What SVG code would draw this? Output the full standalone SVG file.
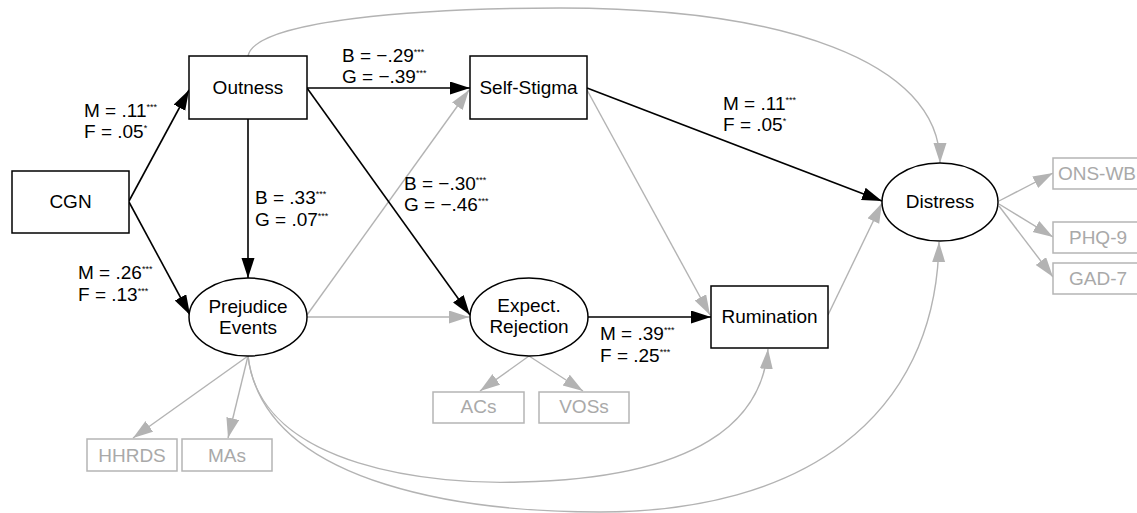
<svg xmlns="http://www.w3.org/2000/svg" width="1137" height="513" viewBox="0 0 1137 513">
<style>
text{font-family:"Liberation Sans",Arial,sans-serif;font-size:19px;fill:#000}
.c{text-anchor:middle}
.g{fill:#a9a9a9}
.sup{font-size:9px}
.node{fill:#fff;stroke:#000;stroke-width:1.5}
.ind{fill:#fff;stroke:#b5b5b5;stroke-width:1.5}
.eb{fill:none;stroke:#000;stroke-width:1.6}
.eg{fill:none;stroke:#b3b3b3;stroke-width:1.4}
</style>
<defs>
<marker id="ab" markerUnits="userSpaceOnUse" markerWidth="21" markerHeight="14" refX="20" refY="6.5" orient="auto"><path d="M0,0 L20,6.5 L0,13 z" fill="#000"/></marker>
<marker id="ag" markerUnits="userSpaceOnUse" markerWidth="21" markerHeight="14" refX="20" refY="6.5" orient="auto"><path d="M0,0 L20,6.5 L0,13 z" fill="#b3b3b3"/></marker>
</defs>
<g id="connectors">
<path class="eg" d="M248,56 C255,20 420,8 560,8 C780,8 940,60 940,163" marker-end="url(#ag)"/>
<path class="eg" d="M248,356 C260,470 440,485 520,482 C700,478 762,420 768,349" marker-end="url(#ag)"/>
<path class="eg" d="M248,356 C265,490 480,512 600,512 C800,512 936,420 939,242" marker-end="url(#ag)"/>
<line class="eg" x1="307" y1="315" x2="469" y2="90" marker-end="url(#ag)"/>
<line class="eg" x1="307" y1="317" x2="469" y2="317" marker-end="url(#ag)"/>
<line class="eg" x1="587" y1="90" x2="710" y2="315" marker-end="url(#ag)"/>
<line class="eg" x1="828" y1="315" x2="882" y2="203" marker-end="url(#ag)"/>
<line class="eg" x1="248" y1="356" x2="133" y2="438" marker-end="url(#ag)"/>
<line class="eg" x1="248" y1="356" x2="228" y2="438" marker-end="url(#ag)"/>
<line class="eg" x1="529" y1="356" x2="480" y2="391" marker-end="url(#ag)"/>
<line class="eg" x1="529" y1="356" x2="583" y2="391" marker-end="url(#ag)"/>
<line class="eg" x1="999" y1="201" x2="1053" y2="173" marker-end="url(#ag)"/>
<line class="eg" x1="999" y1="204" x2="1053" y2="237" marker-end="url(#ag)"/>
<line class="eg" x1="999" y1="206" x2="1053" y2="277" marker-end="url(#ag)"/>
<line class="eb" x1="129" y1="201" x2="189" y2="90" marker-end="url(#ab)"/>
<line class="eb" x1="129" y1="202" x2="190" y2="315" marker-end="url(#ab)"/>
<line class="eb" x1="248" y1="119" x2="248" y2="278" marker-end="url(#ab)"/>
<line class="eb" x1="307" y1="88" x2="470" y2="88" marker-end="url(#ab)"/>
<line class="eb" x1="307" y1="88" x2="470" y2="315" marker-end="url(#ab)"/>
<line class="eb" x1="587" y1="88" x2="882" y2="201" marker-end="url(#ab)"/>
<line class="eb" x1="588" y1="317" x2="711" y2="317" marker-end="url(#ab)"/>
</g>
<g id="labels">
<text x="84" y="117">M = .11<tspan class="sup" dy="-7">***</tspan></text>
<text x="84" y="138">F = .05<tspan class="sup" dy="-7">*</tspan></text>
<text x="255" y="204">B = .33<tspan class="sup" dy="-7">***</tspan></text>
<text x="255" y="225.5">G = .07<tspan class="sup" dy="-7">***</tspan></text>
<text x="342" y="62">B = −.29<tspan class="sup" dy="-7">***</tspan></text>
<text x="342" y="83">G = −.39<tspan class="sup" dy="-7">***</tspan></text>
<text x="404" y="190">B = −.30<tspan class="sup" dy="-7">***</tspan></text>
<text x="404" y="211">G = −.46<tspan class="sup" dy="-7">***</tspan></text>
<text x="723" y="110">M = .11<tspan class="sup" dy="-7">***</tspan></text>
<text x="723" y="131">F = .05<tspan class="sup" dy="-7">*</tspan></text>
<text x="78" y="279">M = .26<tspan class="sup" dy="-7">***</tspan></text>
<text x="78" y="300.5">F = .13<tspan class="sup" dy="-7">***</tspan></text>
<text x="600" y="340">M = .39<tspan class="sup" dy="-7">***</tspan></text>
<text x="600" y="361.5">F = .25<tspan class="sup" dy="-7">***</tspan></text>
</g>
<g id="cgn"><rect class="node" x="12" y="171" width="117" height="62"/><text class="c" x="70.5" y="208">CGN</text></g>
<g id="outness"><rect class="node" x="189" y="56" width="118" height="63"/><text class="c" x="248" y="94">Outness</text></g>
<g id="selfstigma"><rect class="node" x="470" y="56" width="117" height="63"/><text class="c" x="528.5" y="94">Self-Stigma</text></g>
<g id="distress"><ellipse class="node" cx="940" cy="202" rx="58" ry="39"/><text class="c" x="940" y="208">Distress</text></g>
<g id="prejudice"><ellipse class="node" cx="248" cy="317" rx="59" ry="39"/><text class="c" x="248" y="312.5">Prejudice</text><text class="c" x="248" y="334">Events</text></g>
<g id="expect"><ellipse class="node" cx="529" cy="317" rx="59" ry="39"/><text class="c" x="529" y="311.5">Expect.</text><text class="c" x="529" y="333">Rejection</text></g>
<g id="rumination"><rect class="node" x="711" y="286" width="117" height="62"/><text class="c" x="769.5" y="323">Rumination</text></g>
<g id="hhrds"><rect class="ind" x="87" y="439" width="90" height="32"/><text class="c g" x="132" y="461.5">HHRDS</text></g>
<g id="mas"><rect class="ind" x="182" y="439" width="90" height="32"/><text class="c g" x="227" y="461.5">MAs</text></g>
<g id="acs"><rect class="ind" x="433" y="392" width="91" height="31"/><text class="c g" x="478.5" y="413">ACs</text></g>
<g id="voss"><rect class="ind" x="539" y="392" width="90" height="31"/><text class="c g" x="584" y="413">VOSs</text></g>
<g id="onswb"><rect class="ind" x="1053" y="158" width="92" height="31"/><text class="c g" x="1097" y="180">ONS-WB</text></g>
<g id="phq9"><rect class="ind" x="1053" y="222" width="92" height="31"/><text class="c g" x="1098" y="243.5">PHQ-9</text></g>
<g id="gad7"><rect class="ind" x="1053" y="263" width="92" height="31"/><text class="c g" x="1098" y="285">GAD-7</text></g>
</svg>
